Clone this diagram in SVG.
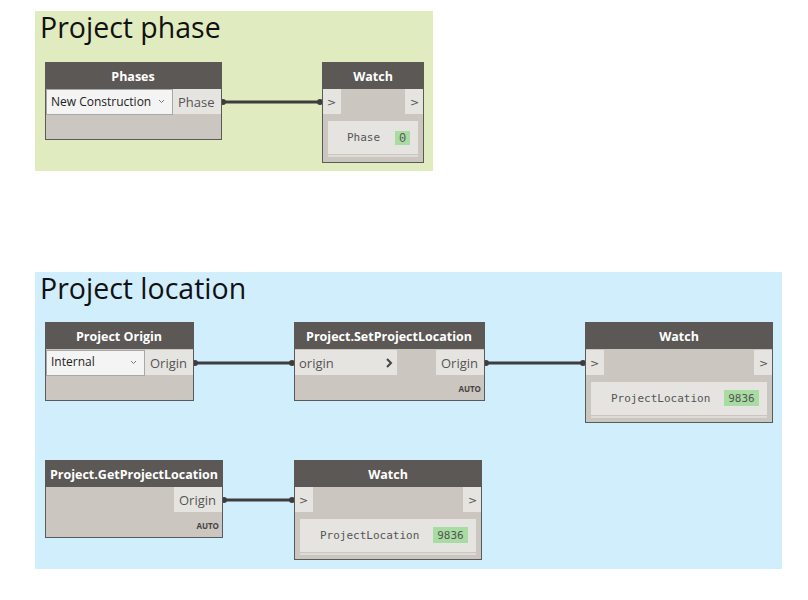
<svg xmlns="http://www.w3.org/2000/svg" width="808" height="600" viewBox="0 0 808 600">
<style>
.hdr{fill:#5b5855}
.body{fill:#cbc6c0;stroke:#5a5a5a;stroke-width:1}
.port{fill:#e6e4e0}
.dd{fill:#f4f4f4;stroke:#a8a8a8;stroke-width:1}
.ttl{font-family:"Open Sans","Noto Sans",sans-serif;font-size:12.5px;font-weight:bold;fill:#ffffff;text-anchor:middle}
.pt{font-family:"Open Sans","Noto Sans",sans-serif;font-size:13px;fill:#555555}
.ddt{font-family:"Open Sans","Noto Sans",sans-serif;font-size:12px;fill:#222222}
.grp{font-family:"Open Sans","Noto Sans",sans-serif;font-size:28.5px;fill:#111111}
.auto{font-family:"Open Sans","Noto Sans",sans-serif;font-size:8px;font-weight:bold;fill:#444444;text-anchor:end}
.box{fill:#e6e4e0}
.mono{font-family:"DejaVu Sans Mono","Liberation Mono",monospace;font-size:11px;fill:#555555}
.zero{font-family:"Liberation Mono",monospace;font-size:12px;fill:#555555}
.grn{fill:#a8dca2}
.wire{stroke:#3d3d3d;stroke-width:3;fill:none}
.end{fill:#3d3d3d}
.chev{font-family:"DejaVu Sans",sans-serif;font-size:11px;fill:#555555}
.ddc{stroke:#777777;stroke-width:1;fill:none}
</style>
<g id="group-phase">
<rect x="35" y="11" width="398" height="160" fill="#e1ebc0"/>
<text class="grp" x="40" y="38">Project phase</text>
</g>
<g id="group-location">
<rect x="35" y="272" width="747" height="297" fill="#d0eefc"/>
<text class="grp" x="40" y="299">Project location</text>
</g>
<g id="connectors">
<line class="wire" x1="221" y1="102" x2="322" y2="102"/>
<circle class="end" cx="223" cy="102" r="3"/><circle class="end" cx="320" cy="102" r="3"/>
<line class="wire" x1="193" y1="363" x2="294" y2="363"/>
<circle class="end" cx="195" cy="363" r="3"/><circle class="end" cx="292" cy="363" r="3"/>
<line class="wire" x1="484" y1="363" x2="585" y2="363"/>
<circle class="end" cx="486" cy="363" r="3"/><circle class="end" cx="583" cy="363" r="3"/>
<line class="wire" x1="222" y1="500" x2="294" y2="500"/>
<circle class="end" cx="224" cy="500" r="3"/><circle class="end" cx="292" cy="500" r="3"/>
</g>
<g id="node-phases">
<rect class="body" x="45.5" y="62.5" width="176" height="77"/>
<rect class="hdr" x="45" y="62" width="177" height="27"/>
<text class="ttl" x="133" y="81">Phases</text>
<rect class="dd" x="46.5" y="89.5" width="126" height="25"/>
<text class="ddt" x="51" y="106">New Construction</text>
<polyline class="ddc" points="159,100 161.5,102.5 164,100"/>
<rect class="port" x="173" y="89" width="48" height="25"/>
<text class="pt" x="178" y="107">Phase</text>
</g>
<g id="node-watch1">
<rect class="body" x="322.5" y="62.5" width="101" height="100"/>
<rect class="hdr" x="322" y="62" width="102" height="27"/>
<text class="ttl" x="373" y="81">Watch</text>
<rect class="port" x="323" y="89" width="18" height="25"/>
<text class="chev" x="327" y="106">&gt;</text>
<rect class="port" x="405" y="89" width="18" height="25"/>
<text class="chev" x="410" y="106">&gt;</text>
<rect class="box" x="328" y="121" width="90" height="33"/>
<rect x="328" y="155" width="90" height="2" fill="#dedbd6"/>
<text class="mono" x="347" y="141">Phase</text>
<rect class="grn" x="395" y="131" width="15" height="14"/>
<text class="zero" x="402.5" y="142" text-anchor="middle">0</text>
</g>
<g id="node-project-origin">
<rect class="body" x="45.5" y="322.5" width="148" height="78"/>
<rect class="hdr" x="45" y="322" width="149" height="27"/>
<text class="ttl" x="119" y="341">Project Origin</text>
<rect class="dd" x="46.5" y="350.5" width="98" height="25"/>
<text class="ddt" x="51" y="366">Internal</text>
<polyline class="ddc" points="131,361 133.5,363.5 136,361"/>
<rect class="port" x="145" y="350" width="48" height="25"/>
<text class="pt" x="150" y="368">Origin</text>
</g>
<g id="node-set-project-location">
<rect class="body" x="294.5" y="322.5" width="190" height="78"/>
<rect class="hdr" x="294" y="322" width="191" height="27"/>
<text class="ttl" x="389" y="341">Project.SetProjectLocation</text>
<rect class="port" x="295" y="350" width="102" height="25"/>
<text class="pt" x="299" y="368">origin</text>
<polyline points="387,359 391,363 387,367" stroke="#444" stroke-width="2" fill="none"/>
<rect class="port" x="436" y="350" width="48" height="25"/>
<text class="pt" x="441" y="368">Origin</text>
<text class="auto" x="481" y="392">AUTO</text>
</g>
<g id="node-watch2">
<rect class="body" x="585.5" y="322.5" width="187" height="100"/>
<rect class="hdr" x="585" y="322" width="188" height="27"/>
<text class="ttl" x="679" y="341">Watch</text>
<rect class="port" x="586" y="350" width="18" height="25"/>
<text class="chev" x="590" y="367">&gt;</text>
<rect class="port" x="754" y="350" width="18" height="25"/>
<text class="chev" x="759" y="367">&gt;</text>
<rect class="box" x="591" y="382" width="176" height="33"/>
<rect x="591" y="416" width="176" height="2" fill="#dedbd6"/>
<text class="mono" x="611" y="402">ProjectLocation</text>
<rect class="grn" x="724" y="390" width="35" height="16"/>
<text class="mono" x="741.5" y="402" text-anchor="middle">9836</text>
</g>
<g id="node-get-project-location">
<rect class="body" x="45.5" y="460.5" width="177" height="77"/>
<rect class="hdr" x="45" y="460" width="178" height="27"/>
<text class="ttl" x="134" y="479">Project.GetProjectLocation</text>
<rect class="port" x="174" y="487" width="48" height="25"/>
<text class="pt" x="179" y="505">Origin</text>
<text class="auto" x="219" y="529">AUTO</text>
</g>
<g id="node-watch3">
<rect class="body" x="294.5" y="460.5" width="187" height="99"/>
<rect class="hdr" x="294" y="460" width="188" height="27"/>
<text class="ttl" x="388" y="479">Watch</text>
<rect class="port" x="295" y="487" width="18" height="25"/>
<text class="chev" x="299" y="504">&gt;</text>
<rect class="port" x="463" y="487" width="18" height="25"/>
<text class="chev" x="468" y="504">&gt;</text>
<rect class="box" x="300" y="519" width="176" height="33"/>
<rect x="300" y="553" width="176" height="2" fill="#dedbd6"/>
<text class="mono" x="320" y="539">ProjectLocation</text>
<rect class="grn" x="433" y="527" width="35" height="16"/>
<text class="mono" x="450.5" y="539" text-anchor="middle">9836</text>
</g>
</svg>
